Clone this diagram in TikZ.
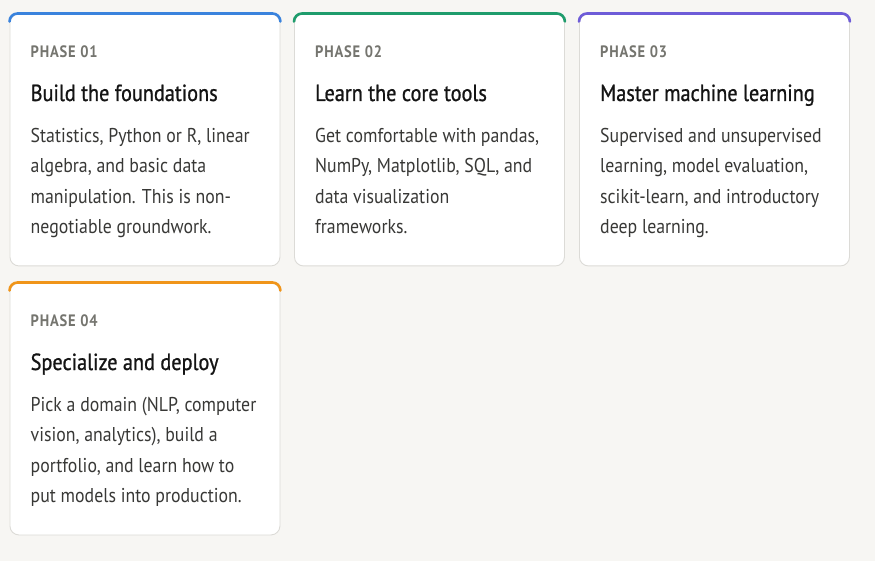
\documentclass[tikz,border=0pt]{standalone}
\usepackage{fontspec}
\setmainfont{PT Sans}[FakeStretch=0.89]
\newfontfamily\phasefont{PT Sans}[FakeStretch=0.88,LetterSpace=5]
\newfontfamily\titlefont{PT Sans}[FakeStretch=0.87,FakeBold=0.9]
\definecolor{bgc}{HTML}{F7F6F3}
\definecolor{cardborder}{HTML}{DCDBD7}
\definecolor{cblue}{HTML}{3A83DD}
\definecolor{cgreen}{HTML}{1E9C6C}
\definecolor{cpurple}{HTML}{6E5CD8}
\definecolor{corange}{HTML}{F0951A}
\definecolor{phasegray}{HTML}{75756F}
\definecolor{titleblack}{HTML}{141414}
\definecolor{bodygray}{HTML}{383836}
\tikzset{
  cardbox/.style={draw=cardborder, line width=0.9pt, fill=white, rounded corners=9pt,
    minimum width=270pt, minimum height=252pt, anchor=north west, inner sep=0pt},
  phasetext/.style={anchor=base west, inner sep=0pt, text=phasegray, font=\phasefont\bfseries\fontsize{16.5}{20}\selectfont},
  titletext/.style={anchor=base west, inner sep=0pt, text=titleblack, font=\titlefont\fontsize{23.3}{28}\selectfont},
  bodytext/.style={anchor=base west, inner sep=0pt, text=bodygray, font=\fontsize{20}{30}\selectfont},
  topline/.style={line width=2.6pt, line cap=round}
}
\newcommand\phasecard[7]{%
  % #1 name, #2 left, #3 top, #4 colour, #5 phase, #6 title, #7 lines
  \node[cardbox] (#1) at (#2,#3) {};
  \draw[topline, draw=#4] ([yshift=-8pt]#1.north west) arc[start angle=180, end angle=90, radius=8pt]
     -- ([xshift=-8pt]#1.north east) arc[start angle=90, end angle=0, radius=8pt];
  \node[phasetext] (#1-phase) at ([xshift=21pt,yshift=-44pt]#1.north west) {#5};
  \node[titletext] (#1-title) at ([xshift=21pt,yshift=-87.5pt]#1.north west) {#6};
  \foreach \ln [count=\i] in {#7} {
    \node[bodytext] (#1-line\i) at ([xshift=21pt,yshift={-129pt-30.3pt*(\i-1)}]#1.north west) {\ln};
  }
}
\begin{document}
\begin{tikzpicture}[x=1pt,y=-1pt]
\fill[bgc] (0,0) rectangle (875,561);
\useasboundingbox (0,0) rectangle (875,561);
\phasecard{c1}{9.5}{13.5}{cblue}{PHASE 01}{Build the foundations}%
  {{Statistics, Python or R, linear},{algebra, and basic data},{manipulation. This is non-},{negotiable groundwork.}}
\phasecard{c2}{294}{13.5}{cgreen}{PHASE 02}{Learn the core tools}%
  {{Get comfortable with pandas,},{NumPy, Matplotlib, SQL, and},{data visualization},{frameworks.}}
\phasecard{c3}{579}{13.5}{cpurple}{PHASE 03}{Master machine learning}%
  {{Supervised and unsupervised},{learning, model evaluation,},{scikit-learn, and introductory},{deep learning.}}
\phasecard{c4}{9.5}{282.5}{corange}{PHASE 04}{Specialize and deploy}%
  {{Pick a domain (NLP, computer},{vision, analytics), build a},{portfolio, and learn how to},{put models into production.}}
\end{tikzpicture}
\end{document}
